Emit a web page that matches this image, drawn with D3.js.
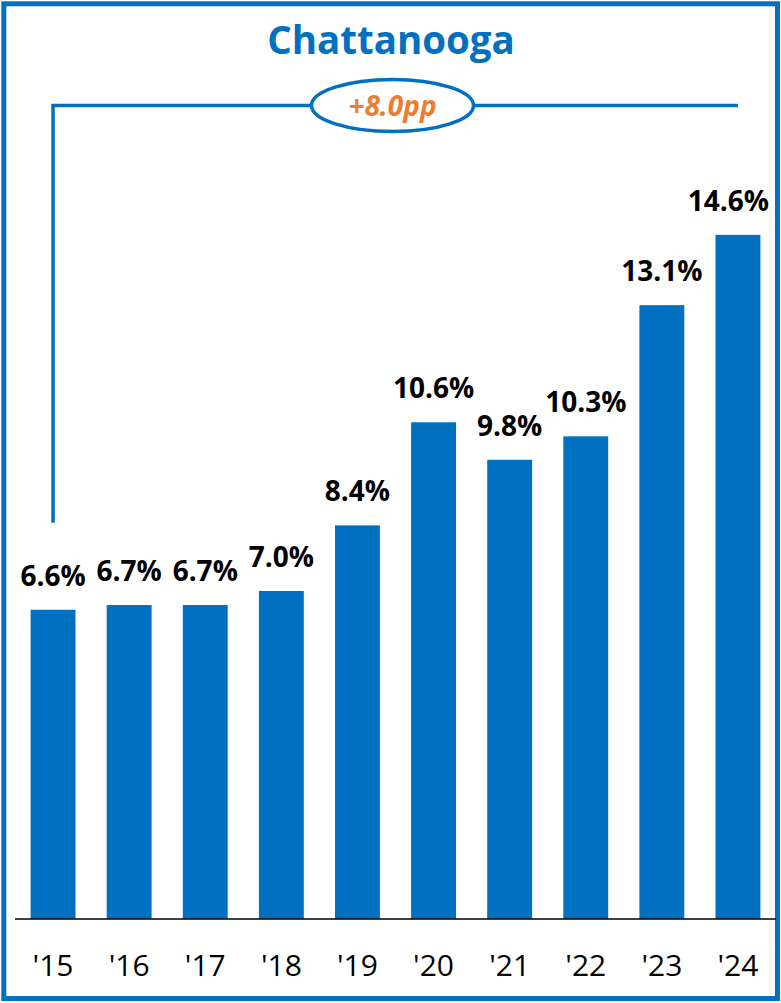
<!DOCTYPE html>
<html>
<head>
<meta charset="utf-8">
<script src="https://cdn.jsdelivr.net/npm/d3@7"></script>
<style>
  html, body { margin: 0; padding: 0; background: #fff; }
  svg { display: block; }
</style>
</head>
<body>
<svg id="chart" width="781" height="1003"></svg>
<script>
// Share by year, Chattanooga
const title = "Chattanooga";
const years = ["'15", "'16", "'17", "'18", "'19", "'20", "'21", "'22", "'23", "'24"];
const values = [6.6, 6.7, 6.7, 7.0, 8.4, 10.6, 9.8, 10.3, 13.1, 14.6];

const blue = "#0070C0";
const orange = "#ED7D31";
const fontFamily = "'Open Sans', 'Noto Sans', sans-serif";

const W = 781, H = 1003;
const svg = d3.select("#chart");

// outer frame
svg.append("rect")
  .attr("x", 3.8).attr("y", 3.8)
  .attr("width", W - 7.3).attr("height", H - 8.3)
  .attr("fill", "#fff")
  .attr("stroke", blue)
  .attr("stroke-width", 5);

const x = d3.scaleBand()
  .domain(years)
  .range([15, 776])
  .paddingInner(0.41)
  .paddingOuter(0.205);

const y = d3.scaleLinear()
  .domain([0, 15.6])
  .range([919, 188]);

// title
svg.append("text")
  .attr("x", 391).attr("y", 54)
  .attr("text-anchor", "middle")
  .attr("font-family", fontFamily)
  .attr("font-weight", 700)
  .attr("font-size", 38.5)
  .attr("fill", blue)
  .text(title);

// bars
svg.append("g").selectAll("rect")
  .data(values)
  .join("rect")
  .attr("x", (d, i) => x(years[i]))
  .attr("y", d => y(d))
  .attr("width", x.bandwidth())
  .attr("height", d => y(0) - y(d))
  .attr("fill", blue);

// value labels, kept inside the frame
const rightLimit = 769;
svg.append("g").selectAll("text")
  .data(values)
  .join("text")
  .attr("x", (d, i) => x(years[i]) + x.bandwidth() / 2)
  .attr("y", d => y(d) - 24)
  .attr("text-anchor", "middle")
  .attr("font-family", fontFamily)
  .attr("font-weight", 700)
  .attr("font-size", 28)
  .attr("fill", "#000")
  .text(d => d.toFixed(1) + "%")
  .each(function () {
    const b = this.getBBox();
    const over = b.x + b.width - rightLimit;
    if (over > 0) d3.select(this).attr("x", +this.getAttribute("x") - over);
  });

// category axis
const axis = svg.append("g")
  .attr("transform", `translate(0,${y(0)})`)
  .call(d3.axisBottom(x).tickSize(0).tickPadding(0));
axis.select(".domain")
  .attr("d", `M${x.range()[0]},0H${x.range()[1]}`)
  .attr("stroke", "#000")
  .attr("stroke-width", 1.6);
axis.selectAll(".tick text")
  .attr("y", 57)
  .attr("dy", null)
  .attr("font-family", fontFamily)
  .attr("font-size", 30)
  .attr("fill", "#000");

// change bracket from first to last year
const first = values[0], last = values[values.length - 1];
const x0 = x(years[0]) + x.bandwidth() / 2;
const x1 = x(years[years.length - 1]) + x.bandwidth() / 2;
const bracketY = 105.5;
const bracketBottom = y(first) - 87;

svg.append("path")
  .attr("d", `M${x0},${bracketBottom}V${bracketY}H${x1}`)
  .attr("fill", "none")
  .attr("stroke", blue)
  .attr("stroke-width", 3.5);

const cx = 392.5;
svg.append("ellipse")
  .attr("cx", cx).attr("cy", bracketY)
  .attr("rx", 81).attr("ry", 26)
  .attr("fill", "#fff")
  .attr("stroke", blue)
  .attr("stroke-width", 3.5);

const diff = last - first;
svg.append("text")
  .attr("x", cx).attr("y", 115.5)
  .attr("text-anchor", "middle")
  .attr("font-family", fontFamily)
  .attr("font-weight", 700)
  .attr("font-style", "italic")
  .attr("font-size", 28)
  .attr("fill", orange)
  .text((diff >= 0 ? "+" : "") + diff.toFixed(1) + "pp");
</script>
</body>
</html>
